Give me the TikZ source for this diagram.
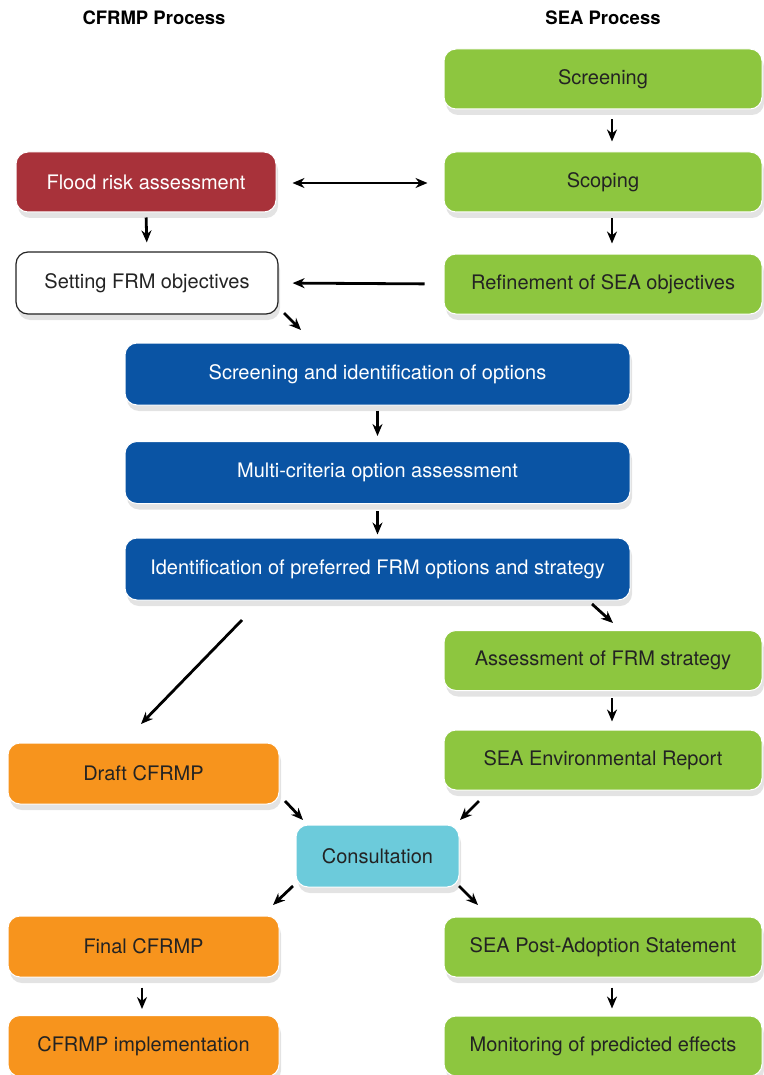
\documentclass[tikz,border=0pt]{standalone}
\usepackage{fontspec}
\setmainfont{TeX Gyre Heros}
\usetikzlibrary{positioning,shadows,arrows.meta}
\definecolor{seaGreen}{RGB}{141,198,63}
\definecolor{floodRed}{RGB}{168,50,58}
\definecolor{optionBlue}{RGB}{10,84,164}
\definecolor{planOrange}{RGB}{247,148,29}
\definecolor{consultCyan}{RGB}{108,203,219}
\definecolor{textGray}{RGB}{35,35,35}
\tikzstyle{pixelGrid} = [x = 1pt, y = -1pt]
\tikzstyle{stageBox} = [rounded corners = 12pt, draw = white, line width = 1pt, align = center, inner sep = 0pt, font = \fontsize{20}{24}\selectfont, drop shadow = {shadow xshift = 2pt, shadow yshift = -6pt, opacity = 0.22}]
\tikzstyle{seaBox} = [stageBox, fill = seaGreen, text = textGray, minimum width = 318pt, minimum height = 60pt]
\tikzstyle{planBox} = [stageBox, fill = planOrange, text = textGray, minimum width = 271pt, minimum height = 61pt]
\tikzstyle{optionBox} = [stageBox, fill = optionBlue, text = white, minimum width = 505pt, minimum height = 62pt]
\tikzstyle{floodBox} = [stageBox, fill = floodRed, text = white, minimum width = 260pt, minimum height = 60pt]
\tikzstyle{objectiveBox} = [stageBox, fill = white, draw = textGray, line width = 1.2pt, text = textGray, minimum width = 262pt, minimum height = 62pt]
\tikzstyle{consultBox} = [stageBox, fill = consultCyan, text = textGray, minimum width = 163pt, minimum height = 62pt]
\tikzstyle{columnTitle} = [font = \fontsize{18.5}{22}\selectfont\bfseries, text = black]
\tikzstyle{flowArrow} = [-{Stealth[length = 12pt, width = 10pt]}, line width = 2.8pt, color = black]
\tikzstyle{bothArrow} = [{Stealth[length = 12pt, width = 10pt]}-{Stealth[length = 12pt, width = 10pt]}, line width = 2.8pt, color = black]

\begin{document}
\begin{tikzpicture}[pixelGrid]
  \useasboundingbox (0,0) rectangle (763,1075);

  \node [columnTitle] (cfrmpTitle) at (154,18) {CFRMP Process};
  \node [columnTitle] (seaTitle) at (603,18) {SEA Process};

  \node [seaBox] (screening) at (603,79) {Screening};
  \node [seaBox] (scoping) at (603,182) {Scoping};
  \node [seaBox] (refinement) at (603,284) {Refinement of SEA objectives};
  \node [floodBox] (flood) at (146,182) {Flood risk assessment};
  \node [objectiveBox] (setting) at (147,283) {Setting FRM objectives};

  \node [optionBox] (optionScreening) at (377.5,374) {Screening and identification of options};
  \node [optionBox] (multiCriteria) at (377.5,472.5) {Multi-criteria option assessment};
  \node [optionBox] (preferred) at (377.5,569) {Identification of preferred FRM options and strategy};

  \node [seaBox] (strategyAssessment) at (603,660.5) {Assessment of FRM strategy};
  \node [seaBox] (envReport) at (603,760) {SEA Environmental Report};
  \node [planBox] (draft) at (143.5,773.5) {Draft CFRMP};
  \node [consultBox] (consultation) at (377.5,856) {Consultation};
  \node [planBox] (final) at (143.5,946.5) {Final CFRMP};
  \node [planBox] (implementation) at (143.5,1046) {CFRMP implementation};
  \node [seaBox] (postAdoption) at (603,947) {SEA Post-Adoption Statement};
  \node [seaBox] (monitoring) at (603,1046) {Monitoring of predicted effects};

  \coordinate (settingOut) at (284,313);
  \coordinate (optionsIn) at (301,330);
  \coordinate (preferredOutRight) at (592,604);
  \coordinate (strategyIn) at (613,623);
  \coordinate (preferredOutLeft) at (242,620);
  \coordinate (draftIn) at (141,724);
  \coordinate (draftOut) at (285,801);
  \coordinate (consultInLeft) at (303,820);
  \coordinate (reportOut) at (479,801);
  \coordinate (consultInRight) at (460,820);
  \coordinate (consultOutLeft) at (293,886);
  \coordinate (finalIn) at (273,905);
  \coordinate (consultOutRight) at (459,886);
  \coordinate (postIn) at (478,905);

  \draw [flowArrow, shorten <= 10pt, shorten >= 10pt] ([xshift = 9pt]screening.south) -- ([xshift = 9pt]scoping.north);
  \draw [flowArrow, shorten <= 6pt, shorten >= 10pt] ([xshift = 9pt]scoping.south) -- ([xshift = 9pt]refinement.north);
  \draw [bothArrow, shorten <= 16pt, shorten >= 16pt] ([yshift = -1pt]flood.east) -- ([yshift = -1pt]scoping.west);
  \draw [flowArrow, shorten <= 19pt, shorten >= 14pt] (refinement.west) -- (setting.east);
  \draw [flowArrow, shorten <= 5pt, shorten >= 9pt] (flood.south) -- (setting.north);
  \draw [flowArrow] (settingOut) -- (optionsIn);
  \draw [flowArrow, shorten <= 5pt, shorten >= 5pt] (optionScreening.south) -- (multiCriteria.north);
  \draw [flowArrow, shorten <= 7pt, shorten >= 3pt] (multiCriteria.south) -- (preferred.north);
  \draw [flowArrow] (preferredOutRight) -- (strategyIn);
  \draw [flowArrow] (preferredOutLeft) -- (draftIn);
  \draw [flowArrow, shorten <= 7pt, shorten >= 8pt] ([xshift = 9pt]strategyAssessment.south) -- ([xshift = 9pt]envReport.north);
  \draw [flowArrow] (draftOut) -- (consultInLeft);
  \draw [flowArrow] (reportOut) -- (consultInRight);
  \draw [flowArrow] (consultOutLeft) -- (finalIn);
  \draw [flowArrow] (consultOutRight) -- (postIn);
  \draw [flowArrow, shorten <= 10pt, shorten >= 6pt] ([xshift = -1.5pt]final.south) -- ([xshift = -1.5pt]implementation.north);
  \draw [flowArrow, shorten <= 10pt, shorten >= 7pt] ([xshift = 9pt]postAdoption.south) -- ([xshift = 9pt]monitoring.north);
\end{tikzpicture}
\end{document}
